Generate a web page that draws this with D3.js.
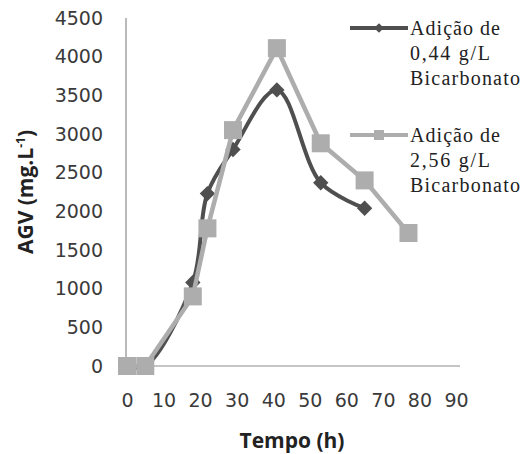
<!DOCTYPE html>
<html><head><meta charset="utf-8">
<script src="https://cdn.jsdelivr.net/npm/d3@7"></script>
<style>body{margin:0;background:#fff}</style>
</head><body>
<svg id="c" width="524" height="454"></svg>
<script>
const time1 = [0, 5, 18, 22, 29, 41, 53, 65];
const agv1 = [0, 0, 1080, 2230, 2800, 3570, 2370, 2040];
const time2 = [0, 5, 18, 22, 29, 41, 53, 65, 77];
const agv2 = [0, 0, 900, 1780, 3050, 4110, 2880, 2400, 1720];
const seriesNames = [["Adição de", "0,44 g/L", "Bicarbonato"], ["Adição de", "2,56 g/L", "Bicarbonato"]];
const xTicks = [0, 10, 20, 30, 40, 50, 60, 70, 80, 90];
const yTicks = [0, 500, 1000, 1500, 2000, 2500, 3000, 3500, 4000, 4500];

const svg = d3.select("#c");
const x = d3.scaleLinear().domain([0, 90]).range([127, 456]);
const y = d3.scaleLinear().domain([0, 4500]).range([366, 18]);

// axes
const gx = svg.append("g").attr("transform", "translate(0,366)")
  .call(d3.axisBottom(x).tickValues(xTicks).tickSize(0).tickPadding(28).tickFormat(d3.format("d")));
gx.select(".domain").attr("d", "M126,0H460").attr("stroke", "#8c8c8c").attr("stroke-width", 1.2);
gx.selectAll("text").attr("font-family", "DejaVu Sans").attr("font-size", 19).attr("fill", "#3a3a3a");

const gy = svg.append("g").attr("transform", "translate(126,0)")
  .call(d3.axisLeft(y).tickValues(yTicks).tickSize(0).tickPadding(23).tickFormat(d3.format("d")));
gy.select(".domain").attr("d", "M0,18V366").attr("stroke", "#8c8c8c").attr("stroke-width", 1.2);
gy.selectAll("text").attr("font-family", "DejaVu Sans").attr("font-size", 19).attr("fill", "#3a3a3a");

// titles
svg.append("text").attr("x", 292).attr("y", 448).attr("text-anchor", "middle")
  .attr("font-family", "Open Sans").attr("font-weight", "bold").attr("font-size", 21).attr("fill", "#222")
  .text("Tempo (h)");
const yt = svg.append("text").attr("transform", "translate(33,192) rotate(-90)").attr("text-anchor", "middle")
  .attr("font-family", "Open Sans").attr("font-weight", "bold").attr("font-size", 21).attr("fill", "#222");
yt.append("tspan").text("AGV (mg.L");
yt.append("tspan").attr("font-size", 12).attr("dy", -8).text("-1");
yt.append("tspan").attr("dy", 8).text(")");

const d1 = time1.map((t, i) => [t, agv1[i]]);
const d2 = time2.map((t, i) => [t, agv2[i]]);
const line1 = d3.line().x(d => x(d[0])).y(d => y(d[1])).curve(d3.curveCatmullRom.alpha(0.5));
const line2 = d3.line().x(d => x(d[0])).y(d => y(d[1]));
const c1 = "#4f4f4f", c2 = "#adadad";

svg.append("path").datum(d1).attr("d", line1).attr("fill", "none").attr("stroke", c1).attr("stroke-width", 4);
svg.selectAll(".m1").data(d1).enter().append("path")
  .attr("transform", d => `translate(${x(d[0])},${y(d[1])})`)
  .attr("d", d3.symbol(d3.symbolDiamond2, 150)()).attr("fill", c1);

svg.append("path").datum(d2).attr("d", line2).attr("fill", "none").attr("stroke", c2).attr("stroke-width", 4.5);
svg.selectAll(".m2").data(d2).enter().append("rect")
  .attr("x", d => x(d[0]) - 9).attr("y", d => y(d[1]) - 9).attr("width", 18).attr("height", 18).attr("fill", c2);

// legend
const legY = [28, 135];
const cols = [c1, c2];
const widths = [90, 80, 110];
legY.forEach((ly, i) => {
  svg.append("line").attr("x1", 350).attr("x2", 408).attr("y1", ly).attr("y2", ly)
    .attr("stroke", cols[i]).attr("stroke-width", 4);
  if (i === 0) {
    svg.append("path").attr("transform", `translate(379,${ly})`).attr("d", d3.symbol(d3.symbolDiamond2, 60)()).attr("fill", c1);
  } else {
    svg.append("rect").attr("x", 374).attr("y", ly - 5).attr("width", 10).attr("height", 10).attr("fill", c2);
  }
  seriesNames[i].forEach((s, j) => {
    svg.append("text").attr("x", 410).attr("y", ly + 7 + j * 25)
      .attr("font-family", "Liberation Serif").attr("font-size", 20).attr("fill", "#222")
      .attr("textLength", widths[j]).attr("lengthAdjust", "spacing")
      .text(s);
  });
});
</script>
</body></html>
